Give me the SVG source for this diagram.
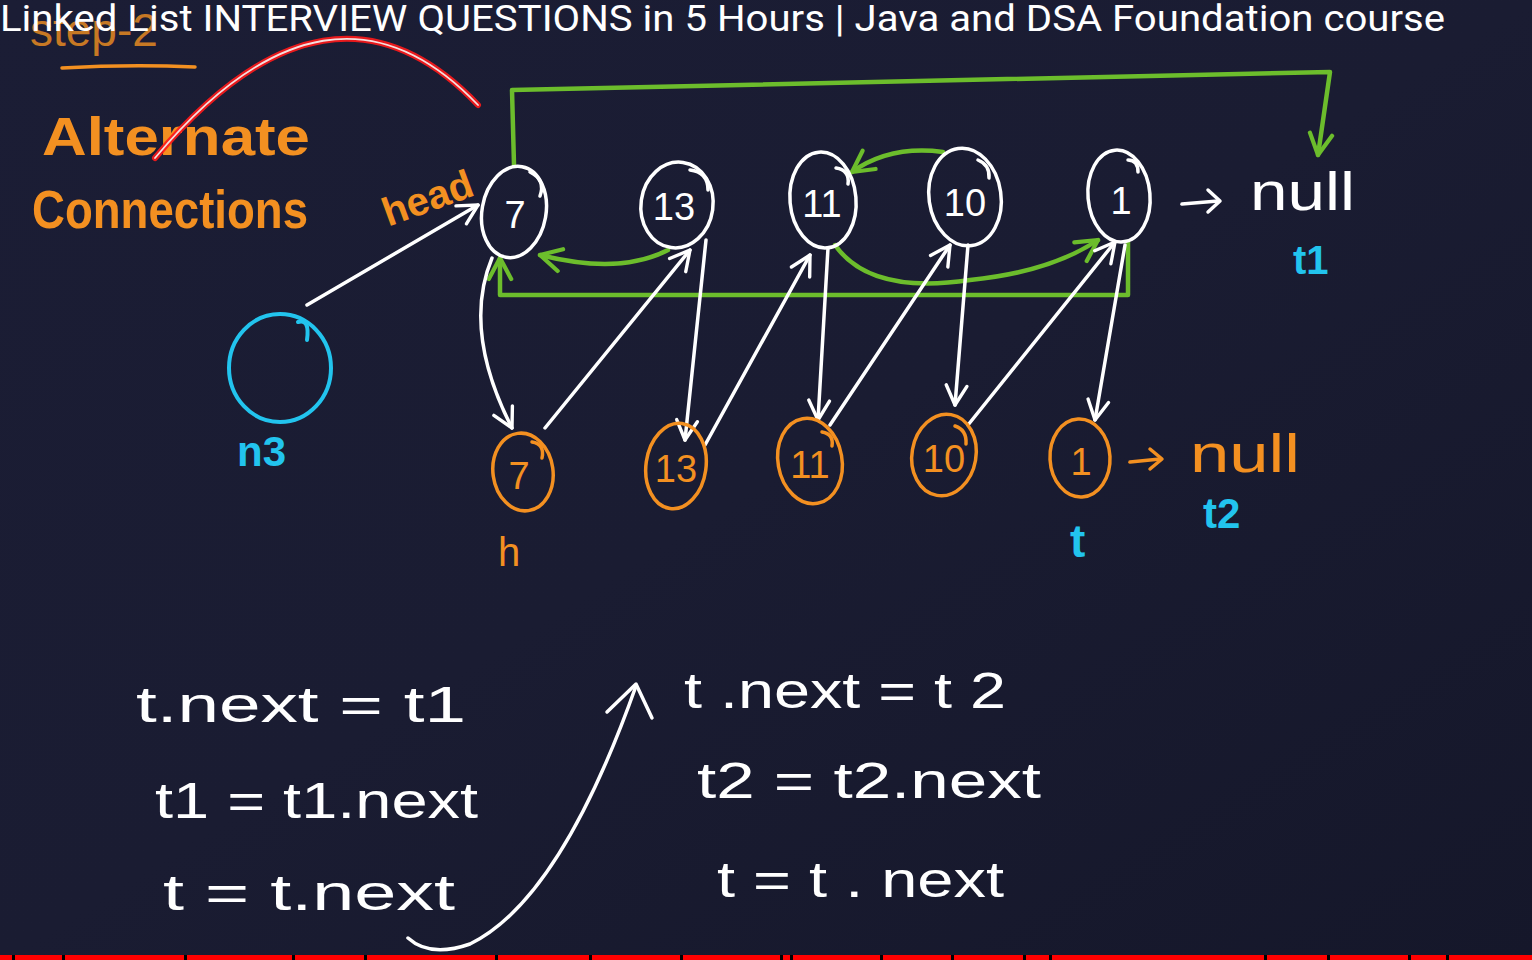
<svg xmlns="http://www.w3.org/2000/svg" width="1532" height="960" viewBox="0 0 1532 960">
<defs>
<linearGradient id="bg" x1="0" y1="0" x2="1" y2="1">
<stop offset="0" stop-color="#1b1d35"/>
<stop offset="0.5" stop-color="#1a1c32"/>
<stop offset="1" stop-color="#15172a"/>
</linearGradient>
<marker id="aw" viewBox="0 0 20 20" refX="18" refY="10" markerWidth="26" markerHeight="26" markerUnits="userSpaceOnUse" orient="auto">
<path d="M3,2 L18,10 L3,18" fill="none" stroke="#ffffff" stroke-width="2.6" stroke-linecap="round" stroke-linejoin="round"/>
</marker>
<marker id="ag" viewBox="0 0 20 20" refX="18" refY="10" markerWidth="28" markerHeight="28" markerUnits="userSpaceOnUse" orient="auto">
<path d="M3,2 L18,10 L3,18" fill="none" stroke="#6cbd2c" stroke-width="3" stroke-linecap="round" stroke-linejoin="round"/>
</marker>
<style>
.w{fill:none;stroke:#ffffff;stroke-width:3.5;stroke-linecap:round;stroke-linejoin:round}
.o{fill:none;stroke:#f39021;stroke-width:3.5;stroke-linecap:round;stroke-linejoin:round}
.g{fill:none;stroke:#6cbd2c;stroke-width:4.5;stroke-linecap:round;stroke-linejoin:round}
.c{fill:none;stroke:#22c4ee;stroke-width:4;stroke-linecap:round;stroke-linejoin:round}
.tw{fill:#ffffff;font-family:"Liberation Sans",Arial,sans-serif}
.to{fill:#f39021;font-family:"Liberation Sans",Arial,sans-serif}
.tc{fill:#22c4ee;font-family:"Liberation Sans",Arial,sans-serif}
.num{font-size:38px;text-anchor:middle}
.code{fill:#ffffff;font-family:"Liberation Sans",Arial,sans-serif;font-size:50px}
</style>
</defs>
<rect width="1532" height="960" fill="url(#bg)"/>

<!-- step-2 heading (partly behind title) -->
<g id="step">
<text x="30" y="46" class="to" font-size="46" opacity="0.8">step-2</text>
<path d="M62,68 Q130,64 195,67" class="o" stroke-width="4"/>
</g>

<!-- title -->
<text x="0" y="31" fill="#ffffff" font-family="Roboto,'Liberation Sans',sans-serif" font-size="36" textLength="1445" lengthAdjust="spacingAndGlyphs">Linked List INTERVIEW QUESTIONS in 5 Hours | Java and DSA Foundation course</text>

<!-- headings -->
<g id="heading">
<text x="42" y="155" class="to" font-size="54" font-weight="bold" textLength="268" lengthAdjust="spacingAndGlyphs">Alternate</text>
<text x="32" y="228" class="to" font-size="54" font-weight="bold" textLength="276" lengthAdjust="spacingAndGlyphs">Connections</text>
</g>

<!-- red arc -->
<g id="redarc">
<path d="M155,158 Q330,-50 478,105" fill="none" stroke="#ff1a1a" stroke-width="6" stroke-linecap="round" opacity="0.9"/>
<path d="M155,158 Q330,-50 478,105" fill="none" stroke="#f4dede" stroke-width="1.8" stroke-linecap="round"/>
</g>

<!-- connectors -->
<g id="connectors">
<!-- green -->
<path d="M514,165 L512,90 L1330,72 L1318,155" class="g" marker-end="url(#ag)"/>
<path d="M1128,242 L1128,295 L500,295 L500,258" class="g" marker-end="url(#ag)"/>
<path d="M668,250 Q620,275 540,255" class="g" marker-end="url(#ag)"/>
<path d="M943,152 Q890,145 852,172" class="g" marker-end="url(#ag)"/>
<path d="M835,245 Q870,295 970,280 Q1050,272 1098,240" class="g" marker-end="url(#ag)"/>
<!-- head / n3 pointer -->
<path d="M307,305 L478,205" class="w" marker-end="url(#aw)"/>
<!-- white weave -->
<path d="M492,258 Q462,330 512,428" class="w" marker-end="url(#aw)"/>
<path d="M545,428 L690,250" class="w" marker-end="url(#aw)"/>
<path d="M706,240 L685,440" class="w" marker-end="url(#aw)"/>
<path d="M705,445 L810,255" class="w" marker-end="url(#aw)"/>
<path d="M828,248 L818,420" class="w" marker-end="url(#aw)"/>
<path d="M830,425 L950,245" class="w" marker-end="url(#aw)"/>
<path d="M968,245 L955,405" class="w" marker-end="url(#aw)"/>
<path d="M968,425 L1115,242" class="w" marker-end="url(#aw)"/>
<path d="M1125,245 L1095,420" class="w" marker-end="url(#aw)"/>
<!-- null arrows -->
<path d="M1182,204 L1218,201" class="w"/>
<path d="M1208,190 L1220,201 L1208,212" class="w"/>
<path d="M1130,462 L1160,459" class="o"/>
<path d="M1150,449 L1162,459 L1150,469" class="o"/>
<!-- code arrow -->
<path d="M408,938 Q430,958 470,944 Q560,900 636,686" class="w" stroke-width="3"/>
<path d="M607,712 L636,684 L652,718" class="w" stroke-width="3"/>
</g>

<!-- top row nodes -->
<g id="n7">
<ellipse cx="514" cy="212" rx="32" ry="46" transform="rotate(10 514 212)" class="w"/>
<path d="M530,172 Q546,180 540,196" class="w" stroke-width="3"/>
<text x="515" y="228" class="tw num">7</text>
</g>
<g id="n13">
<ellipse cx="677" cy="205" rx="36" ry="43" transform="rotate(8 677 205)" class="w"/>
<path d="M690,170 Q708,172 708,190" class="w" stroke-width="3"/>
<text x="674" y="220" class="tw num">13</text>
</g>
<g id="n11">
<ellipse cx="823" cy="200" rx="33" ry="48" transform="rotate(-5 823 200)" class="w"/>
<path d="M836,168 Q850,170 848,184" class="w" stroke-width="3"/>
<text x="822" y="217" class="tw num">11</text>
</g>
<g id="n10">
<ellipse cx="965" cy="197" rx="36" ry="49" transform="rotate(-8 965 197)" class="w"/>
<path d="M978,160 Q990,165 989,178" class="w" stroke-width="3"/>
<text x="965" y="216" class="tw num">10</text>
</g>
<g id="n1">
<ellipse cx="1119" cy="196" rx="31" ry="46" transform="rotate(-5 1119 196)" class="w"/>
<path d="M1128,160 Q1138,160 1138,172" class="w" stroke-width="3"/>
<text x="1121" y="214" class="tw num">1</text>
</g>
<g id="null1">
<text x="1250" y="210" class="tw" font-size="54" textLength="105" lengthAdjust="spacingAndGlyphs">null</text>
<text x="1293" y="274" class="tc" font-size="40" font-weight="bold">t1</text>
</g>

<!-- n3 -->
<g id="n3">
<ellipse cx="280" cy="368" rx="51" ry="54" class="c"/>
<path d="M298,322 Q310,318 307,340" class="c" stroke-width="3.5"/>
<text x="237" y="466" class="tc" font-size="42" font-weight="bold">n3</text>
</g>
<text x="378" y="212" class="to" font-size="40" font-weight="bold" transform="rotate(-20 425 190)">head</text>

<!-- bottom row nodes -->
<g id="m7">
<ellipse cx="523" cy="472" rx="30" ry="39" transform="rotate(-8 523 472)" class="o"/>
<path d="M532,442 Q545,444 542,458" class="o" stroke-width="3"/>
<text x="519" y="489" class="to num" font-size="36">7</text>
</g>
<g id="m13">
<ellipse cx="676" cy="466" rx="30" ry="43" transform="rotate(8 676 466)" class="o"/>
<text x="676" y="482" class="to num" font-size="36">13</text>
</g>
<g id="m11">
<ellipse cx="810" cy="461" rx="32" ry="43" transform="rotate(-10 810 461)" class="o"/>
<path d="M822,432 Q834,434 832,446" class="o" stroke-width="3"/>
<text x="810" y="478" class="to num" font-size="36">11</text>
</g>
<g id="m10">
<ellipse cx="944" cy="455" rx="32" ry="41" transform="rotate(10 944 455)" class="o"/>
<path d="M955,426 Q967,430 966,444" class="o" stroke-width="3"/>
<text x="944" y="472" class="to num" font-size="36">10</text>
</g>
<g id="m1">
<ellipse cx="1080" cy="458" rx="30" ry="39" transform="rotate(-3 1080 458)" class="o"/>
<text x="1081" y="475" class="to num" font-size="36">1</text>
</g>
<g id="null2">
<text x="1190" y="472" class="to" font-size="54" textLength="110" lengthAdjust="spacingAndGlyphs">null</text>
<text x="1203" y="528" class="tc" font-size="42" font-weight="bold">t2</text>
<text x="1070" y="557" class="tc" font-size="46" font-weight="bold">t</text>
<text x="498" y="566" class="to" font-size="40">h</text>
</g>

<!-- code -->
<g id="code-left">
<text x="136" y="722" class="code" textLength="330" lengthAdjust="spacingAndGlyphs">t.next  =  t1</text>
<text x="155" y="818" class="code" textLength="323" lengthAdjust="spacingAndGlyphs">t1 = t1.next</text>
<text x="163" y="910" class="code" textLength="292" lengthAdjust="spacingAndGlyphs">t = t.next</text>
</g>
<g id="code-right">
<text x="684" y="708" class="code" textLength="322" lengthAdjust="spacingAndGlyphs">t .next  = t 2</text>
<text x="697" y="798" class="code" textLength="344" lengthAdjust="spacingAndGlyphs">t2  = t2.next</text>
<text x="717" y="897" class="code" textLength="287" lengthAdjust="spacingAndGlyphs">t  = t . next</text>
</g>

<!-- progress bar -->
<g id="progress">
<rect x="0" y="955" width="1532" height="5" fill="#ff0000"/>
<g fill="#000000">
<rect x="12" y="955" width="3" height="5"/>
<rect x="62" y="955" width="3" height="5"/>
<rect x="184" y="955" width="3" height="5"/>
<rect x="292" y="955" width="3" height="5"/>
<rect x="364" y="955" width="3" height="5"/>
<rect x="495" y="955" width="3" height="5"/>
<rect x="589" y="955" width="3" height="5"/>
<rect x="680" y="955" width="3" height="5"/>
<rect x="780" y="955" width="3" height="5"/>
<rect x="790" y="955" width="3" height="5"/>
<rect x="880" y="955" width="3" height="5"/>
<rect x="951" y="955" width="3" height="5"/>
<rect x="1023" y="955" width="3" height="5"/>
<rect x="1049" y="955" width="3" height="5"/>
<rect x="1264" y="955" width="3" height="5"/>
<rect x="1327" y="955" width="3" height="5"/>
<rect x="1408" y="955" width="3" height="5"/>
<rect x="1446" y="955" width="3" height="5"/>
</g>
</g>
</svg>
